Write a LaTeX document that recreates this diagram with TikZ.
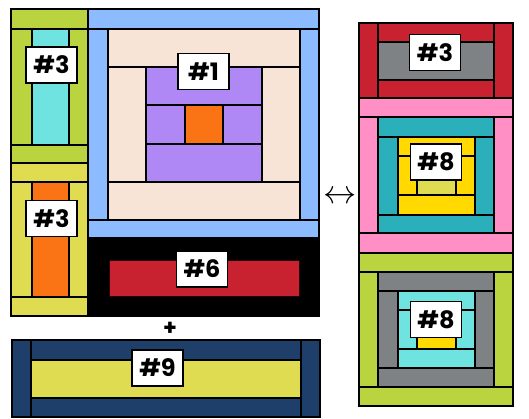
\documentclass[tikz,border=0pt]{standalone}
\usepackage{fontspec}
\newfontfamily\tagfont{Poppins}[BoldFont={* Bold}]
\usepackage{tikz}

\definecolor{lime}{HTML}{B9D43E}
\definecolor{aqua}{HTML}{6FE3E0}
\definecolor{mustard}{HTML}{DFDC52}
\definecolor{tangerine}{HTML}{FA7416}
\definecolor{skyblue}{HTML}{8CBCFF}
\definecolor{linen}{HTML}{F7E4D6}
\definecolor{lilac}{HTML}{B088F5}
\definecolor{brick}{HTML}{C8212F}
\definecolor{navy}{HTML}{1F3F6B}
\definecolor{slate}{HTML}{7F8284}
\definecolor{rose}{HTML}{FF8FC5}
\definecolor{teal}{HTML}{2AAFBB}
\definecolor{gold}{HTML}{FFD900}

\begin{document}
\begin{tikzpicture}[x=1pt,y=-1pt,
  patch/.style={draw=black, line width=1.2pt},
  tag/.style={draw=black, fill=white, line width=1.2pt, inner sep=0pt,
    minimum width=51pt, minimum height=36pt, font=\tagfont\bfseries\fontsize{24}{24}\selectfont}]

\useasboundingbox (0,0) rectangle (529,418);

% Left column, top block (lime / aqua)
\filldraw[patch, fill=lime] (11,9) rectangle (88,29);
\filldraw[patch, fill=lime] (11,29) rectangle (32,145);
\filldraw[patch, fill=aqua] (32,29) rectangle (69,145);
\filldraw[patch, fill=lime] (69,29) rectangle (88,145);
\filldraw[patch, fill=lime] (11,145) rectangle (88,163);

% Left column, bottom block (mustard / tangerine)
\filldraw[patch, fill=mustard] (11,163) rectangle (88,182);
\filldraw[patch, fill=mustard] (11,182) rectangle (32,297);
\filldraw[patch, fill=tangerine] (32,182) rectangle (69,297);
\filldraw[patch, fill=mustard] (69,182) rectangle (88,297);
\filldraw[patch, fill=mustard] (11,297) rectangle (88,316);

% Big block, blue frame
\filldraw[patch, fill=skyblue] (88,9) rectangle (319,29);
\filldraw[patch, fill=skyblue] (88,29) rectangle (108,220);
\filldraw[patch, fill=skyblue] (300,29) rectangle (319,220);
\filldraw[patch, fill=skyblue] (88,220) rectangle (319,238);

% Big block, linen frame
\filldraw[patch, fill=linen] (108,29) rectangle (300,67);
\filldraw[patch, fill=linen] (108,67) rectangle (146,182);
\filldraw[patch, fill=linen] (262,67) rectangle (300,182);
\filldraw[patch, fill=linen] (108,182) rectangle (300,220);

% Big block, lilac centre
\filldraw[patch, fill=lilac] (146,67) rectangle (262,105);
\filldraw[patch, fill=lilac] (146,105) rectangle (185,144);
\filldraw[patch, fill=tangerine] (185,105) rectangle (223,144);
\filldraw[patch, fill=lilac] (223,105) rectangle (262,144);
\filldraw[patch, fill=lilac] (146,144) rectangle (262,182);

% Black strip with red bar
\filldraw[patch, fill=black] (88,238) rectangle (319,316);
\filldraw[draw=black!80!brick, line width=0.8pt, fill=brick] (109,260) rectangle (299,296);

% Bottom strip (navy / mustard)
\filldraw[patch, fill=navy] (12,340) rectangle (31,417);
\filldraw[patch, fill=navy] (301,340) rectangle (320,417);
\filldraw[patch, fill=navy] (31,340) rectangle (301,360);
\filldraw[patch, fill=mustard] (31,360) rectangle (301,398);
\filldraw[patch, fill=navy] (31,398) rectangle (301,417);

% Right column, top block (brick / slate)
\filldraw[patch, fill=brick] (359,23) rectangle (378,98);
\filldraw[patch, fill=brick] (494,23) rectangle (513,98);
\filldraw[patch, fill=brick] (378,23) rectangle (494,42);
\filldraw[patch, fill=slate] (378,42) rectangle (494,80);
\filldraw[patch, fill=brick] (378,80) rectangle (494,98);

% Right column, middle block (rose / teal / gold)
\filldraw[patch, fill=rose] (359,98) rectangle (513,117);
\filldraw[patch, fill=rose] (359,117) rectangle (378,233);
\filldraw[patch, fill=rose] (494,117) rectangle (513,233);
\filldraw[patch, fill=rose] (359,233) rectangle (513,253);
\filldraw[patch, fill=teal] (378,117) rectangle (494,137);
\filldraw[patch, fill=teal] (378,137) rectangle (398,215);
\filldraw[patch, fill=teal] (475,137) rectangle (494,215);
\filldraw[patch, fill=teal] (378,215) rectangle (494,233);
\filldraw[patch, fill=gold] (398,137) rectangle (475,156);
\filldraw[patch, fill=gold] (398,156) rectangle (417,195);
\filldraw[patch, fill=gold] (456,156) rectangle (475,195);
\filldraw[patch, fill=gold] (398,195) rectangle (475,215);
\filldraw[patch, fill=mustard] (417,156) rectangle (456,195);

% Right column, bottom block (lime / slate / aqua)
\filldraw[patch, fill=lime] (359,253) rectangle (513,272);
\filldraw[patch, fill=lime] (359,272) rectangle (378,387);
\filldraw[patch, fill=lime] (494,272) rectangle (513,387);
\filldraw[patch, fill=lime] (359,387) rectangle (513,406);
\filldraw[patch, fill=slate] (378,272) rectangle (494,291);
\filldraw[patch, fill=slate] (378,291) rectangle (398,368);
\filldraw[patch, fill=slate] (475,291) rectangle (494,368);
\filldraw[patch, fill=slate] (378,368) rectangle (494,387);
\filldraw[patch, fill=aqua] (398,291) rectangle (475,310);
\filldraw[patch, fill=aqua] (398,310) rectangle (417,349);
\filldraw[patch, fill=aqua] (456,310) rectangle (475,349);
\filldraw[patch, fill=aqua] (398,349) rectangle (475,368);
\filldraw[patch, fill=gold] (417,310) rectangle (456,349);

% Labels
\node[tag] (tagA) at (51.5,65) {\#3};
\node[tag] (tagB) at (51.5,218.5) {\#3};
\node[tag] (tagC) at (203.5,71.5) {\#1};
\node[tag] (tagD) at (202,269) {\#6};
\node[tag] (tagE) at (157.5,368) {\#9};
\node[tag] (tagF) at (435,52.5) {\#3};
\node[tag] (tagG) at (436,162) {\#8};
\node[tag] (tagH) at (436,319.5) {\#8};

% Plus sign and swap arrow
\node[font=\tagfont\bfseries\fontsize{22}{22}\selectfont] (plus) at (170,329) {+};
\node[inner sep=0pt, scale=1.6, font=\fontsize{20}{20}\selectfont] (swap) at (340,197) {$\leftrightarrow$};

\end{tikzpicture}
\end{document}
